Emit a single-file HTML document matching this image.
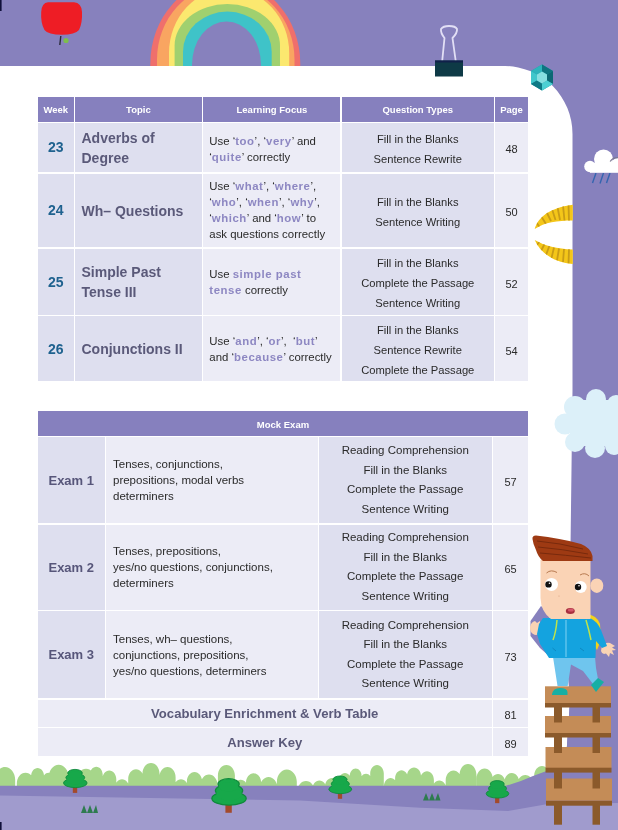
<!DOCTYPE html>
<html><head><meta charset="utf-8">
<style>
*{margin:0;padding:0;box-sizing:border-box}
html,body{width:618px;height:830px;overflow:hidden;background:#fff}
body{position:relative;font-family:"Liberation Sans",Arial,sans-serif;color:#333;-webkit-font-smoothing:antialiased}

svg.bg,svg.fg{position:absolute;left:0;top:0}
.c{position:absolute;display:flex;align-items:center;justify-content:center;text-align:center}
.h{background:#8680be;color:#fff;font-weight:bold;font-size:9.5px;padding-top:1px}
.d{background:#dedfef}
.l{background:#ececf6}
.wk{color:#1f628f;font-weight:bold;font-size:14px}
.tp{color:#5a5979;font-weight:bold;font-size:14px;line-height:19.8px;justify-content:flex-start;text-align:left;padding-left:6.5px;padding-top:3px}
.lf{font-size:11.4px;line-height:15.9px;padding-top:2px;justify-content:flex-start;text-align:left;padding-left:6px;color:#2a2a2a}
.lf b{color:#8d87c2;letter-spacing:0.55px}
.qt{font-size:11.2px;line-height:20.2px;color:#2a2a2a;padding-top:3.5px}
.pg{font-size:11px;color:#2a2a2a;padding-top:4px}
.ex{color:#57567a;font-weight:bold;font-size:13px}
.et{font-size:11.5px;line-height:16px;justify-content:flex-start;text-align:left;padding-left:7px;color:#2a2a2a}
.qt2{font-size:11.5px;line-height:19.5px;color:#2a2a2a}
.big{color:#5a5979;font-weight:bold;font-size:13.1px}
</style></head><body>
<svg class="bg" width="618" height="830" viewBox="0 0 618 830">
  <rect x="0" y="0" width="618" height="830" fill="#8781bd"/>
  <!-- white panel -->
  <path d="M-10 66H505A68 68 0 0 1 572.5 134V390L570.6 540L569 660L570 700L566 760L556 790H-10Z" fill="#fff"/>
  <!-- rainbow -->
  <g>
    <path d="M150.30 66V63.7A75.0 83.9 0 0 1 300.30 63.7V66Z" fill="#ef6f6c"/>
    <path d="M157.00 66V59.5A68.75 74.6 0 0 1 294.50 59.5V66Z" fill="#f9a561"/>
    <path d="M169.00 66V52.9A60.1 64.5 0 0 1 289.20 52.9V66Z" fill="#fbe86f"/>
    <path d="M174.60 66V45.7A52.7 41.7 0 0 1 280.00 45.7V66Z" fill="#a0d06f"/>
    <path d="M183.00 66V51.7A44.35 40.1 0 0 1 271.70 51.7V66Z" fill="#3fc3c8"/>
    <path d="M192.00 66V64.8A34.5 43.4 0 0 1 261.00 64.8V66Z" fill="#8781bd"/>
  </g>
  <!-- apple -->
  <path d="M48 2.3H74Q81.5 2.8 82 12Q82.5 23 79 30Q75 34.8 62 34.8Q48 34.8 44.5 30Q40.5 23 41.2 12Q41.7 2.8 48 2.3Z" fill="#ee1d25"/>
  <path d="M60.8 36L59.8 45" stroke="#2a2a3a" stroke-width="1.4"/>
  <circle cx="66" cy="40.5" r="2.6" fill="#7dbf4c"/>
  <!-- binder clip -->
  <path d="M442 63L444.5 38Q440.5 33 441 29Q443 26 449 26Q455.5 26 457 29Q457.5 33 452.5 38L456 63" fill="none" stroke="#e2dff5" stroke-width="1.8"/>
  <rect x="435" y="60.5" width="28" height="16" fill="#0e3a46"/>
  <rect x="435" y="60.5" width="28" height="2" fill="#10204a"/>
  <!-- gem -->
  <g transform="translate(542 77.5)">
    <polygon points="0,-13 11,-6.5 11,6.5 0,13 -11,6.5 -11,-6.5" fill="#1d9aa3"/>
    <polygon points="0,-13 0,-6 -5,-3 -11,-6.5" fill="#2db3bb"/>
    <polygon points="0,-13 11,-6.5 5,-3 0,-6" fill="#0f7480"/>
    <polygon points="11,-6.5 11,6.5 5,3 5,-3" fill="#0c6874"/>
    <polygon points="-11,-6.5 -5,-3 -5,3 -11,6.5" fill="#40c6cb"/>
    <polygon points="-11,6.5 -5,3 0,6 0,13" fill="#0f7985"/>
    <polygon points="0,6 5,3 11,6.5 0,13" fill="#4ccfd3"/>
    <polygon points="0,-6 5,-3 5,3 0,6 -5,3 -5,-3" fill="#86dfe1"/>
  </g>
  <!-- rain cloud -->
  <g>
    <path d="M596 173L592.5 183M603.5 173L600 183.5M610 173L606.5 183" stroke="#3465b0" stroke-width="1.4"/>
    <circle cx="603.5" cy="159" r="9.5" fill="#fff"/>
    <circle cx="590" cy="166.5" r="5.8" fill="#fff"/>
    <circle cx="618" cy="165" r="7" fill="#fff"/>
    <path d="M610.2 161.5Q612.5 157.4 618 157.6" stroke="#7c7a94" stroke-width="1.3" fill="none"/>
    <rect x="590" y="163" width="28" height="9.8" fill="#fff"/>
  </g>
  <!-- yellow crescents -->
  <defs>
    <clipPath id="cr1"><path d="M534.7 229C538 218 548 208 572.8 204.7L572.8 220.4C557 220.5 545 222 534.7 229Z"/></clipPath>
    <clipPath id="cr2"><path d="M534.7 240C545 246 557 249 572.8 249.4L572.8 264C552 262 540 252 534.7 240Z"/></clipPath>
  </defs>
  <g clip-path="url(#cr1)">
    <rect x="530" y="200" width="45" height="32" fill="#f4c619"/>
    <path d="M536 222L541 229M541 216L546 224M546.5 212L551 221M552 209L555.5 220M557.5 207L560 220M563 205.5L564.5 220.5M568.5 205L569 221" stroke="#c99c16" stroke-width="1.8"/>
  </g>
  <g clip-path="url(#cr2)">
    <rect x="530" y="238" width="45" height="30" fill="#f4c619"/>
    <path d="M536 246L541 240M541 251L545 243M546 255L549.5 245.5M551.5 258L554 247.5M557 260.5L559 248.5M563 262L564 249M568.5 263.5L569 249" stroke="#c99c16" stroke-width="1.8"/>
  </g>
  <!-- right cloud -->
  <g fill="#dcf0f9">
    <circle cx="596" cy="399" r="10"/>
    <circle cx="575" cy="407" r="11"/>
    <circle cx="565" cy="424" r="10.5"/>
    <circle cx="575" cy="442" r="10"/>
    <circle cx="595" cy="448" r="10"/>
    <circle cx="614" cy="446" r="9"/>
    <circle cx="616" cy="404" r="9"/>
    <rect x="570" y="400" width="48" height="46"/>
  </g>
  <!-- ground -->
  <path d="M-5.2 786.5L-5.2 779.8C-5.2 772.8 -0.6 767.0 5.0 767.0C10.6 767.0 15.2 772.8 15.2 779.8L15.2 786.5ZM16.8 786.5L16.8 783.7C16.8 777.7 20.7 772.8 25.5 772.8C30.3 772.8 34.2 777.7 34.2 783.7L34.2 786.5ZM31.2 786.5L31.2 775.9C31.2 771.6 34.1 768.0 37.6 768.0C41.1 768.0 44.0 771.6 44.0 775.9L44.0 786.5ZM42.6 786.5L42.6 780.1C42.6 776.1 45.3 772.8 48.5 772.8C51.7 772.8 54.4 776.1 54.4 780.1L54.4 786.5ZM48.7 786.5L48.7 777.2C48.7 770.3 53.2 764.7 58.7 764.7C64.2 764.7 68.7 770.3 68.7 777.2L68.7 786.5ZM76.0 786.5L76.0 781.3C76.0 774.4 80.5 768.8 86.0 768.8C91.5 768.8 96.0 774.4 96.0 781.3L96.0 786.5ZM89.9 786.5L89.9 774.8C89.9 770.4 92.8 766.8 96.3 766.8C99.8 766.8 102.7 770.4 102.7 774.8L102.7 786.5ZM102.3 786.5L102.3 779.2C102.3 774.4 105.4 770.4 109.3 770.4C113.2 770.4 116.3 774.4 116.3 779.2L116.3 786.5ZM114.7 786.5L114.7 788.4C114.7 783.4 118.0 779.3 122.0 779.3C126.0 779.3 129.3 783.4 129.3 788.4L129.3 786.5ZM128.2 786.5L128.2 779.0C128.2 773.6 131.7 769.2 136.0 769.2C140.3 769.2 143.8 773.6 143.8 779.0L143.8 786.5ZM142.5 786.5L142.5 773.6C142.5 767.8 146.3 763.0 151.0 763.0C155.7 763.0 159.5 767.8 159.5 773.6L159.5 786.5ZM159.4 786.5L159.4 777.2C159.4 771.7 163.0 767.1 167.5 767.1C172.0 767.1 175.6 771.7 175.6 777.2L175.6 786.5ZM173.7 786.5L173.7 788.5C173.7 783.4 177.0 779.3 181.0 779.3C185.0 779.3 188.3 783.4 188.3 788.5L188.3 786.5ZM186.9 786.5L186.9 781.5C186.9 776.3 190.3 772.0 194.5 772.0C198.7 772.0 202.1 776.3 202.1 781.5L202.1 786.5ZM200.4 786.5L200.4 785.3C200.4 779.4 204.3 774.6 209.0 774.6C213.7 774.6 217.6 779.4 217.6 785.3L217.6 786.5ZM217.9 786.5L217.9 775.6C217.9 769.8 221.7 765.0 226.4 765.0C231.1 765.0 234.9 769.8 234.9 775.6L234.9 786.5ZM233.2 786.5L233.2 789.0C233.2 784.0 236.5 779.8 240.6 779.8C244.7 779.8 248.0 784.0 248.0 789.0L248.0 786.5ZM246.0 786.5L246.0 782.8C246.0 777.6 249.4 773.3 253.6 773.3C257.8 773.3 261.2 777.6 261.2 782.8L261.2 786.5ZM259.7 786.5L259.7 788.1C259.7 782.0 263.7 777.0 268.6 777.0C273.5 777.0 277.5 782.0 277.5 788.1L277.5 786.5ZM276.9 786.5L276.9 781.8C276.9 775.0 281.3 769.4 286.8 769.4C292.3 769.4 296.8 775.0 296.8 781.8L296.8 786.5ZM297.2 786.5L297.2 791.9C297.2 785.9 301.2 781.0 306.0 781.0C310.8 781.0 314.8 785.9 314.8 791.9L314.8 786.5ZM312.3 786.5L312.3 789.4C312.3 784.5 315.5 780.5 319.4 780.5C323.3 780.5 326.5 784.5 326.5 789.4L326.5 786.5ZM325.0 786.5L325.0 786.8C325.0 781.9 328.1 778.0 332.0 778.0C335.9 778.0 339.0 781.9 339.0 786.8L339.0 786.5ZM338.5 786.5L338.5 781.2C338.5 776.7 341.4 773.0 345.0 773.0C348.6 773.0 351.5 776.7 351.5 781.2L351.5 786.5ZM349.8 786.5L349.8 775.9C349.8 771.9 352.5 768.6 355.7 768.6C358.9 768.6 361.6 771.9 361.6 775.9L361.6 786.5ZM360.1 786.5L360.1 781.2C360.1 777.1 362.7 773.8 366.0 773.8C369.3 773.8 371.9 777.1 371.9 781.2L371.9 786.5ZM370.2 786.5L370.2 773.4C370.2 768.8 373.3 765.0 377.0 765.0C380.7 765.0 383.8 768.8 383.8 773.4L383.8 786.5ZM383.9 786.5L383.9 786.4C383.9 781.8 386.9 778.0 390.6 778.0C394.3 778.0 397.3 781.8 397.3 786.4L397.3 786.5ZM395.1 786.5L395.1 778.3C395.1 773.8 398.0 770.2 401.5 770.2C405.0 770.2 407.9 773.8 407.9 778.3L407.9 786.5ZM407.0 786.5L407.0 776.3C407.0 771.5 410.2 767.6 414.0 767.6C417.8 767.6 421.0 771.5 421.0 776.3L421.0 786.5ZM420.1 786.5L420.1 779.9C420.1 775.1 423.2 771.2 427.0 771.2C430.8 771.2 433.9 775.1 433.9 779.9L433.9 786.5ZM432.1 786.5L432.1 789.6C432.1 784.7 435.3 780.6 439.3 780.6C443.3 780.6 446.5 784.7 446.5 789.6L446.5 786.5ZM445.7 786.5L445.7 780.1C445.7 774.8 449.2 770.4 453.5 770.4C457.8 770.4 461.3 774.8 461.3 780.1L461.3 786.5ZM459.6 786.5L459.6 774.5C459.6 768.7 463.4 764.0 468.0 764.0C472.6 764.0 476.4 768.7 476.4 774.5L476.4 786.5ZM476.5 786.5L476.5 778.7C476.5 773.2 480.1 768.6 484.6 768.6C489.1 768.6 492.7 773.2 492.7 778.7L492.7 786.5ZM490.6 786.5L490.6 783.2C490.6 778.2 493.9 774.0 498.0 774.0C502.1 774.0 505.4 778.2 505.4 783.2L505.4 786.5ZM504.4 786.5L504.4 782.3C504.4 777.2 507.7 773.0 511.8 773.0C515.9 773.0 519.2 777.2 519.2 782.3L519.2 786.5ZM517.1 786.5L517.1 785.2C517.1 779.6 520.8 775.0 525.3 775.0C529.8 775.0 533.4 779.6 533.4 785.2L533.4 786.5ZM534.2 786.5L534.2 775.7C534.2 770.4 537.7 766.0 542.0 766.0C546.3 766.0 549.8 770.4 549.8 775.7L549.8 786.5Z" fill="#a6d68a"/>
  <path d="M-5 785.7H506Q520 782 533 776L560 766L618 760V830H-5Z" fill="#8781bd"/>
  <path d="M-5 795.4L300 800.5L420 807.8L508 811L545 804.4L618 803V830H-5Z" fill="#a09bcd"/>
  <!-- trees -->
  <g id="trees">
    <g transform="translate(75 769.4) scale(1)">
      <rect x="-2.2" y="16" width="4.4" height="7.5" fill="#a34a2c"/>
      <g fill="#17a84a" stroke="#0f8a3c" stroke-width="0.9">
        <ellipse cx="0.3" cy="13.6" rx="11.8" ry="4.6"/>
        <ellipse cx="0.3" cy="8.2" rx="9.4" ry="4.2"/>
        <ellipse cx="0" cy="3.6" rx="7.3" ry="3.6"/>
      </g>
      <g fill="#17a84a">
        <ellipse cx="0.3" cy="10.5" rx="8.8" ry="4.5"/>
        <ellipse cx="0" cy="5.5" rx="6.8" ry="3.2"/>
      </g>
    </g>
    <g transform="translate(228.6 778.7) scale(1.45)">
      <rect x="-2.2" y="16" width="4.4" height="7.5" fill="#a34a2c"/>
      <g fill="#17a84a" stroke="#0f8a3c" stroke-width="0.9">
        <ellipse cx="0.3" cy="13.6" rx="11.8" ry="4.6"/>
        <ellipse cx="0.3" cy="8.2" rx="9.4" ry="4.2"/>
        <ellipse cx="0" cy="3.6" rx="7.3" ry="3.6"/>
      </g>
      <g fill="#17a84a">
        <ellipse cx="0.3" cy="10.5" rx="8.8" ry="4.5"/>
        <ellipse cx="0" cy="5.5" rx="6.8" ry="3.2"/>
      </g>
    </g>
    <g transform="translate(340 776) scale(0.97)">
      <rect x="-2.2" y="16" width="4.4" height="7.5" fill="#a34a2c"/>
      <g fill="#17a84a" stroke="#0f8a3c" stroke-width="0.9">
        <ellipse cx="0.3" cy="13.6" rx="11.8" ry="4.6"/>
        <ellipse cx="0.3" cy="8.2" rx="9.4" ry="4.2"/>
        <ellipse cx="0" cy="3.6" rx="7.3" ry="3.6"/>
      </g>
      <g fill="#17a84a">
        <ellipse cx="0.3" cy="10.5" rx="8.8" ry="4.5"/>
        <ellipse cx="0" cy="5.5" rx="6.8" ry="3.2"/>
      </g>
    </g>
    <g transform="translate(497.2 780.6) scale(0.96)">
      <rect x="-2.2" y="16" width="4.4" height="7.5" fill="#a34a2c"/>
      <g fill="#17a84a" stroke="#0f8a3c" stroke-width="0.9">
        <ellipse cx="0.3" cy="13.6" rx="11.8" ry="4.6"/>
        <ellipse cx="0.3" cy="8.2" rx="9.4" ry="4.2"/>
        <ellipse cx="0" cy="3.6" rx="7.3" ry="3.6"/>
      </g>
      <g fill="#17a84a">
        <ellipse cx="0.3" cy="10.5" rx="8.8" ry="4.5"/>
        <ellipse cx="0" cy="5.5" rx="6.8" ry="3.2"/>
      </g>
    </g>
  </g>
  <path d="M81 813L84 805L87 813L90 805L93 813L96 805L98 813Z" fill="#2e7b4f"/>
  <path d="M423 800.5L426 793L429 800.5L432 793L435 800.5L438 793L440.5 800.5Z" fill="#2e7b4f"/>
  <!-- edge marks -->
  <rect x="0" y="0" width="1.6" height="11" fill="#10103a"/>
  <rect x="0" y="822" width="1.6" height="8" fill="#10103a"/>
</svg>

<div id="tb" style="position:absolute;left:0;top:0;width:618px;height:830px;will-change:transform">
<!-- TABLE 1 -->
<div class="c h" style="left:38px;top:97px;width:35.5px;height:24.6px">Week</div>
<div class="c h" style="left:75px;top:97px;width:126.8px;height:24.6px">Topic</div>
<div class="c h" style="left:203.3px;top:97px;width:137.2px;height:24.6px">Learning Focus</div>
<div class="c h" style="left:342px;top:97px;width:151.5px;height:24.6px">Question Types</div>
<div class="c h" style="left:495px;top:97px;width:33px;height:24.6px">Page</div>

<div class="c d wk" style="left:38px;top:122.5px;width:35.5px;height:49.5px">23</div>
<div class="c d tp" style="left:75px;top:122.5px;width:126.8px;height:49.5px"><div>Adverbs of<br>Degree</div></div>
<div class="c l lf" style="left:203.3px;top:122.5px;width:137.2px;height:49.5px;padding-top:4.5px;"><div>Use ‘<b>too</b>’, ‘<b>very</b>’ and<br>‘<b>quite</b>’ correctly</div></div>
<div class="c d qt" style="left:342px;top:122.5px;width:151.5px;height:49.5px"><div>Fill in the Blanks<br>Sentence Rewrite</div></div>
<div class="c l pg" style="left:495px;top:122.5px;width:33px;height:49.5px">48</div>
<div class="c d wk" style="left:38px;top:173.5px;width:35.5px;height:73.5px">24</div>
<div class="c d tp" style="left:75px;top:173.5px;width:126.8px;height:73.5px"><div>Wh– Questions</div></div>
<div class="c l lf" style="left:203.3px;top:173.5px;width:137.2px;height:73.5px;"><div>Use ‘<b>what</b>’, ‘<b>where</b>’,<br>‘<b>who</b>’, ‘<b>when</b>’, ‘<b>why</b>’,<br>‘<b>which</b>’ and ‘<b>how</b>’ to<br>ask questions correctly</div></div>
<div class="c d qt" style="left:342px;top:173.5px;width:151.5px;height:73.5px"><div>Fill in the Blanks<br>Sentence Writing</div></div>
<div class="c l pg" style="left:495px;top:173.5px;width:33px;height:73.5px">50</div>
<div class="c d wk" style="left:38px;top:248.5px;width:35.5px;height:66.0px">25</div>
<div class="c d tp" style="left:75px;top:248.5px;width:126.8px;height:66.0px"><div>Simple Past<br>Tense III</div></div>
<div class="c l lf" style="left:203.3px;top:248.5px;width:137.2px;height:66.0px;"><div>Use <b>simple past<br>tense</b> correctly</div></div>
<div class="c d qt" style="left:342px;top:248.5px;width:151.5px;height:66.0px"><div>Fill in the Blanks<br>Complete the Passage<br>Sentence Writing</div></div>
<div class="c l pg" style="left:495px;top:248.5px;width:33px;height:66.0px">52</div>
<div class="c d wk" style="left:38px;top:316px;width:35.5px;height:65px">26</div>
<div class="c d tp" style="left:75px;top:316px;width:126.8px;height:65px"><div>Conjunctions II</div></div>
<div class="c l lf" style="left:203.3px;top:316px;width:137.2px;height:65px;"><div>Use ‘<b>and</b>’, ‘<b>or</b>’,&nbsp; ‘<b>but</b>’<br>and ‘<b>because</b>’ correctly</div></div>
<div class="c d qt" style="left:342px;top:316px;width:151.5px;height:65px"><div>Fill in the Blanks<br>Sentence Rewrite<br>Complete the Passage</div></div>
<div class="c l pg" style="left:495px;top:316px;width:33px;height:65px">54</div>


<!-- TABLE 2 -->
<div class="c h" style="left:38px;top:411px;width:490px;height:25px">Mock Exam</div>
<div class="c d ex" style="left:38px;top:437px;width:66.5px;height:86px">Exam 1</div>
<div class="c l et" style="left:106px;top:437px;width:211.5px;height:86px"><div>Tenses, conjunctions,<br>prepositions, modal verbs<br>determiners</div></div>
<div class="c d qt2" style="left:319px;top:437px;width:172.5px;height:86px"><div>Reading Comprehension<br>Fill in the Blanks<br>Complete the Passage<br>Sentence Writing</div></div>
<div class="c l pg" style="left:493px;top:437px;width:35px;height:86px">57</div>
<div class="c d ex" style="left:38px;top:524.5px;width:66.5px;height:85.0px">Exam 2</div>
<div class="c l et" style="left:106px;top:524.5px;width:211.5px;height:85.0px"><div>Tenses, prepositions,<br>yes/no questions, conjunctions,<br>determiners</div></div>
<div class="c d qt2" style="left:319px;top:524.5px;width:172.5px;height:85.0px"><div>Reading Comprehension<br>Fill in the Blanks<br>Complete the Passage<br>Sentence Writing</div></div>
<div class="c l pg" style="left:493px;top:524.5px;width:35px;height:85.0px">65</div>
<div class="c d ex" style="left:38px;top:611px;width:66.5px;height:87px">Exam 3</div>
<div class="c l et" style="left:106px;top:611px;width:211.5px;height:87px"><div>Tenses, wh– questions,<br>conjunctions, prepositions,<br>yes/no questions, determiners</div></div>
<div class="c d qt2" style="left:319px;top:611px;width:172.5px;height:87px"><div>Reading Comprehension<br>Fill in the Blanks<br>Complete the Passage<br>Sentence Writing</div></div>
<div class="c l pg" style="left:493px;top:611px;width:35px;height:87px">73</div>
<div class="c l big" style="left:38px;top:699.5px;width:453.5px;height:27.0px">Vocabulary Enrichment &amp; Verb Table</div>
<div class="c l pg" style="left:493px;top:699.5px;width:35px;height:27.0px">81</div>
<div class="c l big" style="left:38px;top:728px;width:453.5px;height:28px">Answer Key</div>
<div class="c l pg" style="left:493px;top:728px;width:35px;height:28px">89</div>

</div>

<svg class="fg" width="618" height="830" viewBox="0 0 618 830">
<!-- purple shadow behind boy -->
<path d="M541 606L530.5 621L530.5 636L540 648L549 656L556 640L548 612Z" fill="#8781bd"/>
<path d="M566.5 660L570 700L566 760L590 760L590 660Z" fill="#8781bd"/>
<!-- ladder -->
<g>
  <rect x="545" y="686.3" width="66" height="17" fill="#c48c57"/>
  <rect x="545" y="703" width="66" height="4.5" fill="#8b5a2b"/>
  <rect x="545" y="716" width="66" height="17" fill="#c48c57"/>
  <rect x="545" y="733" width="66" height="4.5" fill="#8b5a2b"/>
  <rect x="545.5" y="747" width="66" height="21" fill="#c48c57"/>
  <rect x="545.5" y="767.7" width="66" height="4.9" fill="#8b5a2b"/>
  <rect x="546" y="778.5" width="66" height="22.3" fill="#c48c57"/>
  <rect x="546" y="800.8" width="66" height="4.9" fill="#8b5a2b"/>
  <g fill="#8b5a2b">
    <rect x="554" y="707" width="8" height="15.5"/><rect x="592.5" y="707" width="7.5" height="15.5"/>
    <rect x="554" y="737" width="8" height="16"/><rect x="592.5" y="737" width="7.5" height="16"/>
    <rect x="554" y="772" width="8" height="16.5"/><rect x="592.5" y="772" width="7.5" height="16.5"/>
    <rect x="554" y="805" width="8" height="19.7"/><rect x="592.5" y="805" width="7.5" height="19.7"/>
  </g>
</g>
<!-- boy -->
<g>
  <!-- backpack -->
  <path d="M586 614Q597 615 600 624L601 640L597 650L591 640Z" fill="#f2d21a"/>
  <!-- right hand -->
  <path d="M602 645Q606 642 610 643L615 646L612 647.5L616 650L612 650.5L614 655L610 653L609 657L606 653.5Q602 655 601 651Z" fill="#f9d3b4"/>
  <!-- left hand -->
  <path d="M530 627Q531 622 535 621L537 623L540 621L541 630Q540 635 535 635Q529.5 633 530 627Z" fill="#f9d3b4"/>
  <!-- pants -->
  <path d="M553 657H595L596 668L598 679L593 684L583 671L571 664.5L567.7 686H557.5Z" fill="#6fc5ee"/>
  <!-- jacket body + sleeves -->
  <path d="M543 618H590Q597 621 601 630L607 646L602 648L596 641L595.5 658H549L540 644L537 634L539 624Z" fill="#14a3df"/>
  <path d="M566 620V657" stroke="#78d0f3" stroke-width="1.1"/>
  <path d="M557 620Q556 632 553 640M586 620Q589 630 591 640" stroke="#bfe34a" stroke-width="1.5" fill="none"/>
  <path d="M552.5 648L556 651M580 648L584 651" stroke="#0f86bd" stroke-width="0.9"/>
  <!-- shoes -->
  <path d="M552 694Q553 688 560 688Q567 688 567.5 692L567.5 695H552Z" fill="#17afa4"/>
  <path d="M591 685L598 678L604 682L596 692Z" fill="#17afa4"/>
  <!-- face -->
  <path d="M540.5 560H590.5V619H551Q541 612 540.5 598Z" fill="#fad3b5"/>
  <ellipse cx="596.8" cy="585.7" rx="6.5" ry="7.3" fill="#fad3b5"/>
  <!-- hair -->
  <path d="M532.5 539Q532 535.5 536 535.5Q560 538 581 544Q591 548 592.5 556V561H543Q538 557 536 550Q533 544 532.5 539Z" fill="#9e3a13"/>
  <path d="M537 541Q560 543 583 549M538 547Q562 549 588 554M540 553Q565 555 591 558" stroke="#6e260b" stroke-width="0.8" fill="none"/>
  <!-- brows -->
  <path d="M546.5 573Q551 569 557 572.5M580 575Q585 572 589 576" stroke="#b87a50" stroke-width="1" fill="none"/>
  <!-- eyes -->
  <circle cx="551.5" cy="584.4" r="6.5" fill="#fff"/>
  <circle cx="580.7" cy="587" r="6" fill="#fff"/>
  <circle cx="548.5" cy="584.4" r="3.2" fill="#111"/>
  <circle cx="578" cy="587" r="3.2" fill="#111"/>
  <circle cx="549.5" cy="583.2" r="0.8" fill="#fff"/>
  <circle cx="579" cy="585.8" r="0.8" fill="#fff"/>
  <circle cx="559" cy="596" r="0.6" fill="#d8a080"/>
  <!-- mouth -->
  <ellipse cx="570.3" cy="610.9" rx="4.5" ry="3" fill="#a8303f"/>
  <ellipse cx="570.8" cy="610" rx="3" ry="1.6" fill="#d4566a"/>
</g>

</svg>
</body></html>
